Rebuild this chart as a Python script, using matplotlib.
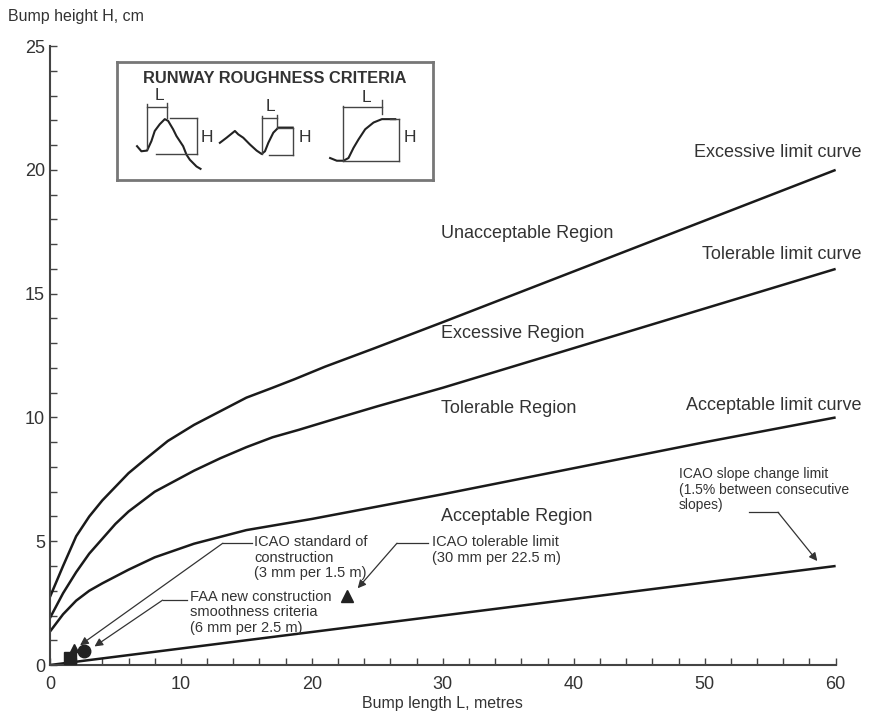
import matplotlib.pyplot as plt
import numpy as np

plt.rcParams['font.family'] = ['Liberation Sans', 'DejaVu Sans']

# limit curves (bump length m, bump height cm)
exc_x = [0, 1, 2, 3, 4, 5, 6, 7.25, 9, 11, 13, 15, 17, 18.7, 21, 24.8, 30, 40, 50, 60]
exc_y = [2.75, 4.0, 5.2, 6.0, 6.65, 7.2, 7.75, 8.3, 9.05, 9.7, 10.25, 10.8, 11.2, 11.55, 12.05, 12.8,
         13.85, 15.9, 17.95, 20.0]
tol_x = [0, 1, 2, 3, 4, 5, 6, 8, 11, 13, 15, 17, 19, 22, 25, 30, 40, 50, 60]
tol_y = [1.9, 2.9, 3.75, 4.5, 5.1, 5.7, 6.2, 7.0, 7.85, 8.35, 8.8, 9.2, 9.5, 9.98, 10.45, 11.2,
         12.8, 14.4, 16.0]
acc_x = [0, 1, 2, 3, 4, 6, 8, 11, 15, 20, 25, 30, 40, 50, 60]
acc_y = [1.35, 2.05, 2.6, 3.0, 3.3, 3.85, 4.35, 4.9, 5.45, 5.9, 6.4, 6.9, 7.95, 9.0, 10.0]
slope_x = [0, 60]
slope_y = [0, 4.0]

# criteria points
sq_pt = (1.5, 0.3)
circ_pt = (2.6, 0.55)
tri_small_pt = (1.8, 0.68)
tol_pt = (22.7, 2.8)

region_labels = ['Unacceptable Region', 'Excessive Region', 'Tolerable Region', 'Acceptable Region']
region_y = [17.45, 13.4, 10.35, 6.0]
curve_labels = ['Excessive limit curve', 'Tolerable limit curve', 'Acceptable limit curve']
curve_label_y = [20.7, 16.6, 10.5]

# inset sketch profiles (inset drawing units)
prof1_x = [82, 95, 112, 125, 135, 150, 165, 175, 190, 200, 210, 220, 230, 240, 250, 260, 272]
prof1_y = [255, 270, 268, 240, 210, 190, 175, 180, 205, 225, 240, 255, 280, 295, 305, 315, 322]
prof2_x = [330, 350, 375, 385, 400, 420, 440, 455, 465, 475, 490, 505, 520, 548]
prof2_y = [245, 230, 210, 220, 230, 250, 268, 278, 270, 245, 215, 200, 200, 200]
prof3_x = [660, 680, 700, 715, 730, 745, 765, 790, 815, 840, 855]
prof3_y = [290, 298, 298, 290, 260, 235, 205, 185, 175, 175, 175]

fig = plt.figure(figsize=(8.72, 7.23), dpi=100)
ax = fig.add_axes([0.0573, 0.0802, 0.901, 0.856])

lc = '#1a1a1a'
tc = '#333333'
for xs, ys in [(exc_x, exc_y), (tol_x, tol_y), (acc_x, acc_y), (slope_x, slope_y)]:
    ax.plot(xs, ys, color=lc, lw=1.8, solid_capstyle='butt', solid_joinstyle='round')

ax.plot(*sq_pt, marker='s', ms=8, color='#222', zorder=5)
ax.plot(*circ_pt, marker='o', ms=9, color='#222', zorder=5)
ax.plot(*tri_small_pt, marker='^', ms=6, color='#222', zorder=5)
ax.plot(*tol_pt, marker='^', ms=9, color='#222', zorder=5)

ax.set_xlim(0, 60)
ax.set_ylim(0, 25)
ax.set_xticks(np.arange(0, 61, 10))
ax.set_xticks(np.arange(0, 61, 2), minor=True)
ax.set_yticks(np.arange(0, 26, 5))
ax.set_yticks(np.arange(0, 26, 1), minor=True)
ax.tick_params(which='both', direction='in', length=5, width=1, color='#444',
               labelsize=13, labelcolor=tc)
ax.tick_params(axis='x', pad=8)
for s in ['top', 'right']:
    ax.spines[s].set_visible(False)
for s in ['left', 'bottom']:
    ax.spines[s].set_color('#444')
    ax.spines[s].set_linewidth(1.5)

fig.text(8 / 872, 1 - 17 / 723, 'Bump height H, cm', fontsize=11.5, color=tc, va='center')
ax.set_xlabel('Bump length L, metres', fontsize=11.5, color=tc, labelpad=2)

for lab, y in zip(region_labels, region_y):
    ax.text(29.9, y, lab, fontsize=13, color=tc, va='center', ha='left')
for lab, y in zip(curve_labels, curve_label_y):
    ax.text(62, y, lab, fontsize=13, color=tc, va='center', ha='right', clip_on=False)

ann_kw = dict(fontsize=10.5, color=tc, va='top', ha='left', linespacing=1.15)
ax.text(15.6, 5.25, 'ICAO standard of\nconstruction\n(3 mm per 1.5 m)', **ann_kw)
ax.text(10.7, 3.05, 'FAA new construction\nsmoothness criteria\n(6 mm per 2.5 m)', **ann_kw)
ax.text(29.2, 5.25, 'ICAO tolerable limit\n(30 mm per 22.5 m)', **ann_kw)
ax.text(48.0, 8.0, 'ICAO slope change limit\n(1.5% between consecutive\nslopes)', fontsize=10, color=tc,
        va='top', ha='left', linespacing=1.15)

arr = dict(arrowstyle='-|>', color='#333', lw=0.9, mutation_scale=12, shrinkA=0, shrinkB=0)
leaders = [
    ((15.4, 4.92), (13.2, 4.92), (2.3, 0.8)),
    ((10.5, 2.62), (8.6, 2.62), (3.4, 0.75)),
    ((28.9, 4.92), (26.5, 4.92), (23.5, 3.1)),
    ((53.4, 6.17), (55.6, 6.17), (58.6, 4.2)),
]
for p0, p1, p2 in leaders:
    ax.plot([p0[0], p1[0]], [p0[1], p1[1]], color='#333', lw=0.9)
    ax.annotate('', xy=p2, xytext=p1, arrowprops=arr)

# inset box with the runway roughness sketches
ins = fig.add_axes([117 / 872, 1 - 180 / 723, 316 / 872, 118 / 723])
ins.set_xlim(22, 968)
ins.set_ylim(355, 6)
ins.set_xticks([])
ins.set_yticks([])
for s in ins.spines.values():
    s.set_color('#777')
    s.set_linewidth(2)
ins.text(495, 55, 'RUNWAY ROUGHNESS CRITERIA', fontsize=11.8, fontweight='bold',
         color='#333', ha='center', va='center')
sk = dict(color='#222', lw=1.5)
th = dict(color='#444', lw=1.0)
lt = dict(fontsize=12.5, color='#333', ha='center', va='center')
ins.plot(prof1_x, prof1_y, **sk)
ins.plot(prof2_x, prof2_y, **sk)
ins.plot(prof3_x, prof3_y, **sk)
# sketch 1 dimensions
ins.plot([112, 112], [130, 262], **th)
ins.plot([112, 172], [140, 140], **th)
ins.plot([172, 172], [128, 172], **th)
ins.plot([180, 262], [172, 172], **th)
ins.plot([140, 262], [278, 278], **th)
ins.plot([262, 262], [172, 278], **th)
ins.text(148, 105, 'L', **lt)
ins.text(292, 228, 'H', **lt)
# sketch 2 dimensions
ins.plot([455, 455], [165, 278], **th)
ins.plot([455, 500], [172, 172], **th)
ins.plot([500, 500], [162, 198], **th)
ins.plot([500, 550], [200, 200], **th)
ins.plot([478, 550], [282, 282], **th)
ins.plot([550, 550], [200, 282], **th)
ins.text(480, 138, 'L', **lt)
ins.text(585, 228, 'H', **lt)
# sketch 3 dimensions
ins.plot([700, 700], [135, 298], **th)
ins.plot([700, 815], [140, 140], **th)
ins.plot([815, 815], [118, 160], **th)
ins.plot([840, 865], [175, 175], **th)
ins.plot([700, 865], [300, 300], **th)
ins.plot([865, 865], [175, 300], **th)
ins.text(768, 110, 'L', **lt)
ins.text(900, 228, 'H', **lt)

fig.savefig('out.png', dpi=100)
